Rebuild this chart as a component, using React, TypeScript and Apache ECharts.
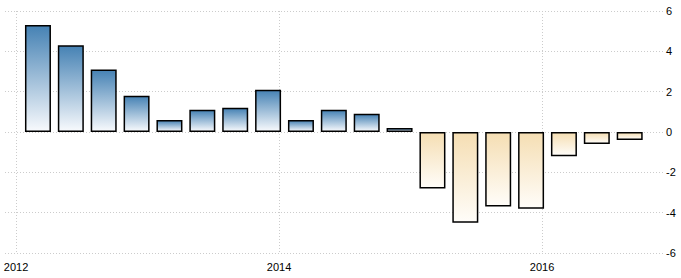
import React, { useEffect, useRef } from "react";
import * as echarts from "echarts";

const quarters: string[] = [
  "2012Q1", "2012Q2", "2012Q3", "2012Q4",
  "2013Q1", "2013Q2", "2013Q3", "2013Q4",
  "2014Q1", "2014Q2", "2014Q3", "2014Q4",
  "2015Q1", "2015Q2", "2015Q3", "2015Q4",
  "2016Q1", "2016Q2", "2016Q3",
];
const values: number[] = [
  5.3, 4.3, 3.1, 1.8, 0.6, 1.1, 1.2, 2.1, 0.6, 1.1, 0.9, 0.2,
  -2.8, -4.5, -3.7, -3.8, -1.2, -0.6, -0.4,
];
const yearLabels: number[] = [2012, 2014, 2016];
const yTicks = { min: -6, max: 6, interval: 2 };

function quarterToX(q: string): number {
  const year = parseInt(q.slice(0, 4), 10);
  const qn = parseInt(q.slice(5), 10);
  return year + (qn * 3 - 1) / 12;
}

const posGrad = () =>
  new echarts.graphic.LinearGradient(0, 0, 0, 1, [
    { offset: 0, color: "#4682b4" },
    { offset: 1, color: "#f8fafd" },
  ]);
const negGrad = () =>
  new echarts.graphic.LinearGradient(0, 0, 0, 1, [
    { offset: 0, color: "#f5deb3" },
    { offset: 1, color: "#fffdf9" },
  ]);

export default function App() {
  const ref = useRef<HTMLDivElement>(null);
  useEffect(() => {
    if (!ref.current) return;
    const chart = echarts.init(ref.current, null, { renderer: "svg" });
    const gridStyle = { color: "#cccccc", type: [1, 2] as any, width: 1 };
    chart.setOption({
      animation: false,
      grid: { left: 5, right: 18, top: 11, bottom: 25, containLabel: false },
      xAxis: {
        type: "value",
        min: 2011.916,
        max: 2016.92,
        axisLine: { show: false },
        axisTick: { show: false, customValues: yearLabels },
        axisLabel: {
          customValues: yearLabels,
          color: "#000",
          fontFamily: "Liberation Sans, Arial, sans-serif",
          fontSize: 11,
          margin: 8,
          formatter: (v: number) => String(Math.round(v)),
        },
        splitLine: { show: true, lineStyle: gridStyle },
      },
      yAxis: {
        type: "value",
        position: "right",
        min: yTicks.min,
        max: yTicks.max,
        interval: yTicks.interval,
        axisLine: { show: false },
        axisTick: { show: false },
        axisLabel: {
          color: "#000",
          fontFamily: "Liberation Sans, Arial, sans-serif",
          fontSize: 11,
          margin: 3,
          align: "left",
        },
        splitLine: { show: true, lineStyle: gridStyle },
      },
      series: [
        {
          type: "bar",
          barWidth: 26,
          data: quarters.map((q, i) => ({
            value: [quarterToX(q), values[i]],
            itemStyle: {
              color: values[i] >= 0 ? posGrad() : negGrad(),
              borderColor: "#000",
              borderWidth: 1.5,
            },
          })),
        },
      ],
    });
    return () => chart.dispose();
  }, []);
  return <div ref={ref} style={{ width: 681, height: 278, position: "absolute", left: 0, top: 0 }} />;
}
